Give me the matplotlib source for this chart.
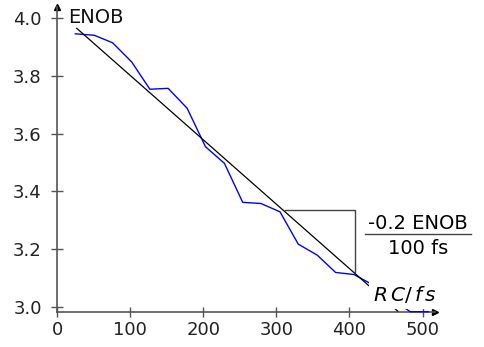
import matplotlib
matplotlib.use("Agg")
import matplotlib.pyplot as plt

# measured ENOB vs RC time constant (fs)
rc_fs = [25, 51, 76, 102, 127, 152, 178, 203, 229, 254,
         279, 305, 330, 356, 381, 406, 432, 457, 483, 508]
enob = [3.946, 3.941, 3.915, 3.849, 3.754, 3.757, 3.688, 3.555, 3.497, 3.362,
        3.358, 3.329, 3.217, 3.179, 3.119, 3.112, 3.076, 3.029, 2.983, 2.983]

# linear fit and slope triangle
fit_x = [27, 466]
fit_y = [3.965, 2.985]
tri_x = [312, 408, 408]
tri_y = [3.335, 3.335, 3.12]

xticks = [0, 100, 200, 300, 400, 500]
yticks = [3.0, 3.2, 3.4, 3.6, 3.8, 4.0]

axis_col = "#555555"

fig = plt.figure(figsize=(4.84, 3.47), dpi=100)
ax = fig.add_axes([0.1178, 0.1017, 0.781, 0.879])
ax.set_xlim(0, 517)
ax.set_ylim(2.983, 4.04)

ax.plot(rc_fs, enob, color="blue", lw=1.0, zorder=3, clip_on=False)
ax.plot(fit_x, fit_y, color="black", lw=0.9, zorder=3)
ax.plot(tri_x, tri_y, color="#444444", lw=1.0, zorder=2)

for s in ["top", "right"]:
    ax.spines[s].set_visible(False)
for s in ["left", "bottom"]:
    ax.spines[s].set_color(axis_col)
    ax.spines[s].set_linewidth(1.2)

# arrow heads on the axes
ax.plot(1, 0, ">", color="black", ms=4, transform=ax.transAxes, clip_on=False)
ax.plot(0, 1, "^", color="black", ms=4, transform=ax.transAxes, clip_on=False)

ax.set_xticks(xticks)
ax.set_yticks(yticks)
ax.set_yticklabels([f"{v:.1f}" for v in yticks])
ax.tick_params(axis="y", direction="inout", length=8, width=1, color=axis_col,
               labelsize=13, labelcolor="#222222", pad=7)
ax.tick_params(axis="x", direction="inout", length=7, width=1, color=axis_col,
               labelsize=13, labelcolor="#222222", pad=3)

ax.text(15, 4.004, "ENOB", fontsize=14, ha="left", va="center", color="#111111")
ax.text(476, 3.042, r"$R\,C/\,f\,s$", fontsize=14.5, ha="center", va="center",
        bbox=dict(facecolor="white", edgecolor="none", boxstyle="square,pad=0.2"),
        zorder=5, clip_on=False)

# slope label as a fraction
ax.text(494, 3.290, "-0.2 ENOB", fontsize=14, ha="center", va="center", clip_on=False)
ax.text(494, 3.203, "100 fs", fontsize=14, ha="center", va="center", clip_on=False)
ax.plot([421, 566], [3.252, 3.252], color="#444444", lw=1.0, clip_on=False)

fig.savefig("out.png", dpi=100)
